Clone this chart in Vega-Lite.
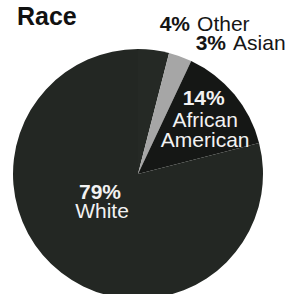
{
  "$schema": "https://vega.github.io/schema/vega-lite/v6.json",
  "autosize": {"type": "none"},
  "width": 276,
  "height": 250,
  "padding": {"left": 0, "top": 49, "right": 19, "bottom": 0},
  "background": "#ffffff",
  "config": {"view": {"stroke": null}, "text": {"font": "Liberation Sans"}},
  "title": {"text": "Race", "anchor": "start", "fontSize": 25, "fontWeight": "bold", "font": "Liberation Sans", "color": "#111111", "dx": 17, "dy": 36, "offset": 0, "baseline": "alphabetic"},
  "data": {"values": [
    {"cat": "Other", "pct": 4, "rank": 1, "pctLabel": "4%", "name": "Other"},
    {"cat": "Asian", "pct": 3, "rank": 2, "pctLabel": "3%", "name": "Asian"},
    {"cat": "African American", "pct": 14, "rank": 3, "pctLabel": "14%", "name": "African American"},
    {"cat": "White", "pct": 79, "rank": 4, "pctLabel": "79%", "name": "White"}
  ]},
  "encoding": {
    "theta": {"field": "pct", "type": "quantitative", "stack": true},
    "order": {"field": "rank", "type": "quantitative"}
  },
  "layer": [
    {
      "mark": {"type": "arc", "stroke": null},
      "encoding": {
        "color": {"field": "cat", "type": "nominal", "legend": null,
          "scale": {"domain": ["Other", "Asian", "African American", "White"], "range": ["#252925", "#a6a6a6", "#151715", "#232723"]}}
      }
    },
    {
      "mark": {"type": "text", "radius": 40, "dx": -13.5, "dy": -6.5, "fontSize": 21, "fontWeight": "bold", "baseline": "alphabetic", "align": "center", "fill": "#f2f2f2"},
      "encoding": {"text": {"condition": {"test": "datum.cat === 'White'", "field": "pctLabel"}, "value": ""}}
    },
    {
      "mark": {"type": "text", "radius": 40, "dx": -11.5, "dy": 12.5, "fontSize": 21, "baseline": "alphabetic", "align": "center", "fill": "#f2f2f2"},
      "encoding": {"text": {"condition": {"test": "datum.cat === 'White'", "field": "name"}, "value": ""}}
    },
    {
      "mark": {"type": "text", "radius": 80, "dx": 4, "dy": -18, "fontSize": 21, "fontWeight": "bold", "baseline": "alphabetic", "align": "center", "fill": "#f2f2f2"},
      "encoding": {"text": {"condition": {"test": "datum.cat === 'African American'", "field": "pctLabel"}, "value": ""}}
    },
    {
      "mark": {"type": "text", "radius": 80, "dx": 5.5, "dy": 4, "fontSize": 21, "baseline": "alphabetic", "align": "center", "fill": "#f2f2f2", "lineBreak": " ", "lineHeight": 20},
      "encoding": {"text": {"condition": {"test": "datum.cat === 'African American'", "field": "name"}, "value": ""}}
    },
    {
      "mark": {"type": "text", "radius": 140, "dx": 34.5, "dy": -4.4, "fontSize": 21, "fontWeight": "bold", "baseline": "alphabetic", "align": "right", "fill": "#151515"},
      "encoding": {"text": {"condition": {"test": "datum.cat === 'Other'", "field": "pctLabel"}, "value": ""}}
    },
    {
      "mark": {"type": "text", "radius": 140, "dx": 41.5, "dy": -4.4, "fontSize": 21, "baseline": "alphabetic", "align": "left", "fill": "#151515"},
      "encoding": {"text": {"condition": {"test": "datum.cat === 'Other'", "field": "name"}, "value": ""}}
    },
    {
      "mark": {"type": "text", "radius": 130, "dx": 44, "dy": -1.7, "fontSize": 21, "fontWeight": "bold", "baseline": "alphabetic", "align": "right", "fill": "#151515"},
      "encoding": {"text": {"condition": {"test": "datum.cat === 'Asian'", "field": "pctLabel"}, "value": ""}}
    },
    {
      "mark": {"type": "text", "radius": 130, "dx": 51, "dy": -1.7, "fontSize": 21, "baseline": "alphabetic", "align": "left", "fill": "#151515"},
      "encoding": {"text": {"condition": {"test": "datum.cat === 'Asian'", "field": "name"}, "value": ""}}
    }
  ]
}
